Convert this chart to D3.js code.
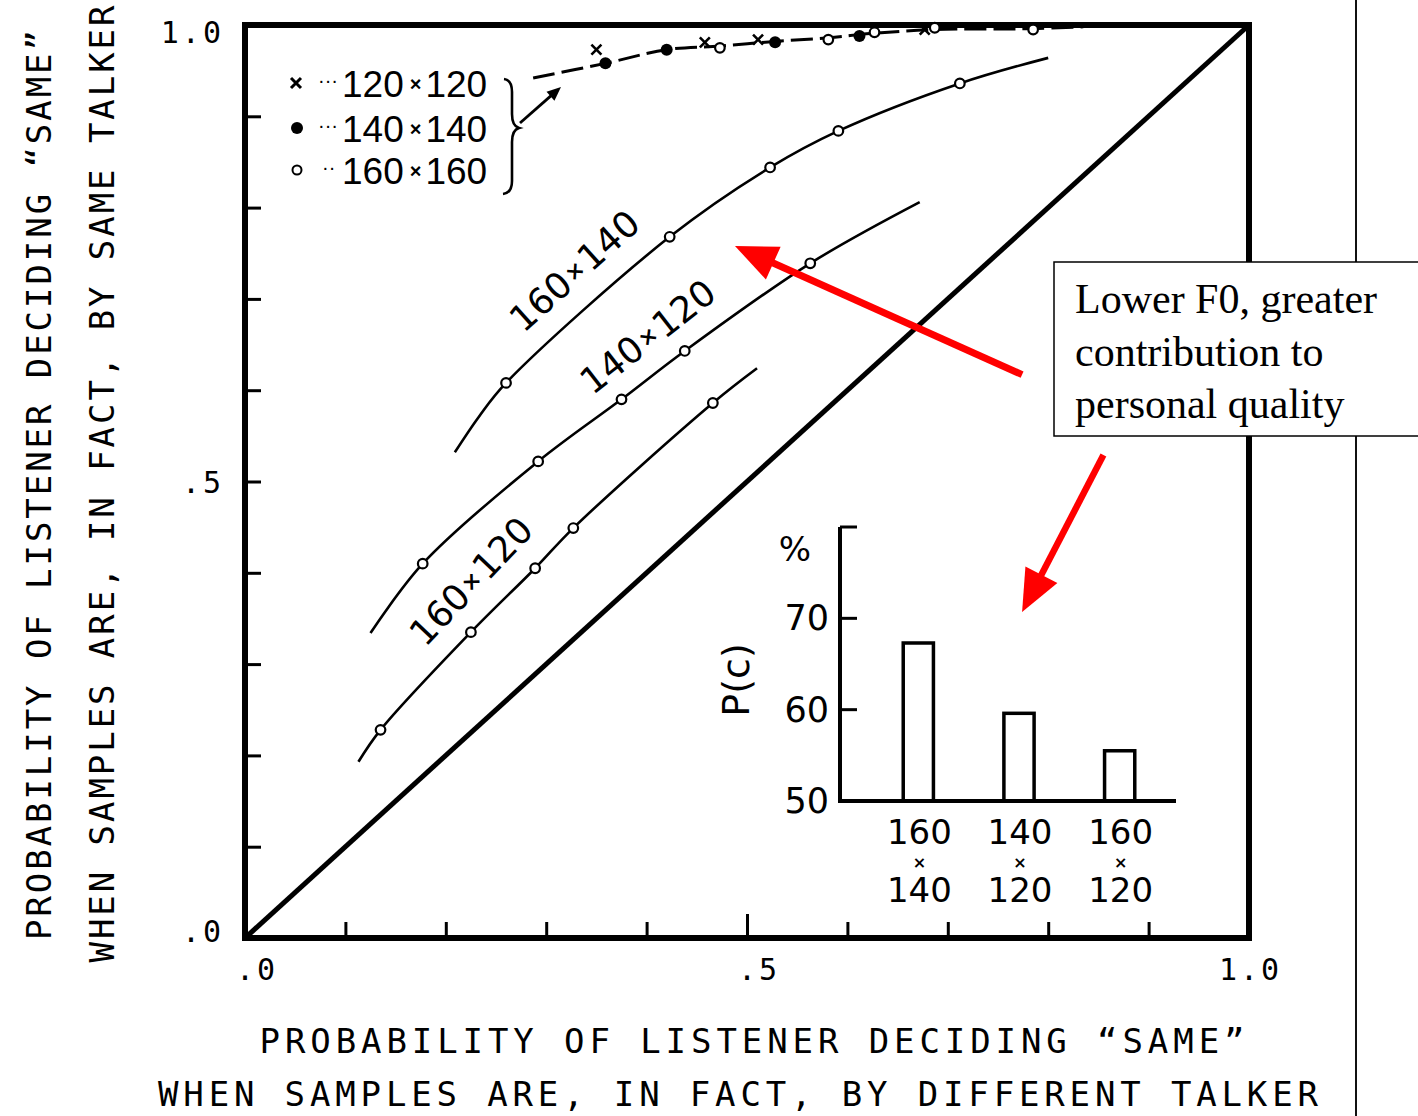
<!DOCTYPE html>
<html><head><meta charset="utf-8">
<script src="https://cdn.jsdelivr.net/npm/d3@7"></script>
<style>body{margin:0;background:#fff}svg{display:block}</style>
</head><body>
<svg id="c" width="1418" height="1116"></svg>
<script>
// ---------- data ----------
const minorTicks = [0.1,0.2,0.3,0.4,0.5,0.6,0.7,0.8,0.9];
const labelValues = [0, 0.5, 1];
const labelTexts = [".0", ".5", "1.0"];

// line paths (x = P(same | different talker), y = P(same | same talker))
const curve160x140 = [[0.209,0.532],[0.233,0.571],[0.260,0.608],[0.423,0.768],[0.523,0.844],[0.591,0.884],[0.712,0.936],[0.800,0.964]];
const marks160x140 = [[0.260,0.608],[0.423,0.768],[0.523,0.844],[0.591,0.884],[0.712,0.936]];
const curve140x120 = [[0.125,0.334],[0.177,0.410],[0.292,0.522],[0.375,0.590],[0.438,0.643],[0.563,0.739],[0.672,0.806]];
const marks140x120 = [[0.177,0.410],[0.292,0.522],[0.375,0.590],[0.438,0.643],[0.563,0.739]];
const curve160x120 = [[0.113,0.193],[0.135,0.228],[0.225,0.335],[0.289,0.405],[0.327,0.449],[0.466,0.586],[0.510,0.624]];
const marks160x120 = [[0.135,0.228],[0.225,0.335],[0.289,0.405],[0.327,0.449],[0.466,0.586]];
const curveSame = [[0.287,0.942],[0.359,0.958],[0.420,0.973],[0.473,0.977],[0.528,0.982],[0.581,0.986],[0.627,0.991],[0.687,0.995],[0.785,0.996],[0.835,0.998]];
const same120 = [[0.350,0.973],[0.458,0.981],[0.511,0.984],[0.677,0.995]];
const same140 = [[0.359,0.958],[0.420,0.973],[0.528,0.981],[0.612,0.988]];
const same160 = [[0.473,0.975],[0.581,0.984],[0.627,0.992],[0.687,0.997],[0.785,0.995]];
const diagonal = [[0,0],[1,1]];

const legendLabels = [["120","120"],["140","140"],["160","160"]];
const curveLabels = [["160","140"],["140","120"],["160","120"]];

// inset bar chart
const barCats = [["160","140"],["140","120"],["160","120"]];
const barValues = [67.3, 59.6, 55.5];
const barTickValues = [60, 70, 80];
const barTickLabels = [50, 60, 70];

const xTitle = ["PROBABILITY OF LISTENER DECIDING \u201CSAME\u201D", "WHEN SAMPLES ARE, IN FACT, BY DIFFERENT TALKER"];
const yTitle = ["PROBABILITY OF LISTENER DECIDING \u201CSAME\u201D", "WHEN SAMPLES ARE, IN FACT, BY SAME TALKER"];
const calloutLines = ["Lower F0, greater", "contribution to", "personal quality"];

// ---------- drawing ----------
const svg = d3.select("#c");
const x = d3.scaleLinear().domain([0,1]).range([245,1249]);
const y = d3.scaleLinear().domain([0,1]).range([938,25]);
const mono = "'DejaVu Sans Mono', monospace";
const sans = "'DejaVu Sans', sans-serif";

svg.append("rect").attr("width",1418).attr("height",1116).attr("fill","#fff");

// right vertical rule
svg.append("line").attr("x1",1356).attr("x2",1356).attr("y1",0).attr("y2",1116)
  .attr("stroke","#111").attr("stroke-width",2);

// ticks
svg.append("g").attr("transform",`translate(0,${y(0)})`)
  .call(d3.axisBottom(x).tickValues(minorTicks).tickSize(-16).tickFormat(""))
  .call(g=>{g.select(".domain").remove();g.selectAll("line").attr("stroke","#000").attr("stroke-width",3);
    g.selectAll(".tick").filter(d=>d===0.5).select("line").attr("y2",-24);});
svg.append("g").attr("transform",`translate(${x(0)},0)`)
  .call(d3.axisLeft(y).tickValues(minorTicks).tickSize(-16).tickFormat(""))
  .call(g=>{g.select(".domain").remove();g.selectAll("line").attr("stroke","#000").attr("stroke-width",3);});

// frame
svg.append("rect").attr("x",x(0)).attr("y",y(1)).attr("width",x(1)-x(0)).attr("height",y(0)-y(1))
  .attr("fill","none").attr("stroke","#000").attr("stroke-width",6);

// tick labels
const adv = 0.602*30 + 3;
labelValues.forEach((v,i)=>{
  const t = labelTexts[i];
  const idx = t.indexOf(".");
  svg.append("text").attr("x", x(v) - (idx+0.5)*adv + 1.5).attr("y",980)
    .attr("font-family",mono).attr("font-size",30).attr("letter-spacing",3).text(t);
  svg.append("text").attr("x",224).attr("y",y(v)+ (v===1?18:(v===0?4:11)))
    .attr("text-anchor","end").attr("font-family",mono).attr("font-size",30).attr("letter-spacing",3).text(t);
});

// axis titles
const xt = [[752,1053,985],[738,1106,1160]];
xTitle.forEach((s,i)=>svg.append("text").attr("x",xt[i][0]).attr("y",xt[i][1]).attr("text-anchor","middle")
  .attr("font-family",mono).attr("font-size",34).attr("textLength",xt[i][2]).attr("lengthAdjust","spacing").text(s));
const yt = [[51,485,910],[114,484,957]];
yTitle.forEach((s,i)=>svg.append("text").attr("transform",`translate(${yt[i][0]},${yt[i][1]}) rotate(-90)`)
  .attr("text-anchor","middle").attr("font-family",mono).attr("font-size",34)
  .attr("textLength",yt[i][2]).attr("lengthAdjust","spacing").text(s));

// diagonal
svg.append("path").datum(diagonal).attr("d",d3.line().x(d=>x(d[0])).y(d=>y(d[1])))
  .attr("stroke","#000").attr("stroke-width",5).attr("fill","none");

// curves
const line = d3.line().x(d=>x(d[0])).y(d=>y(d[1])).curve(d3.curveCatmullRom.alpha(0.5));
[curve160x140, curve140x120, curve160x120].forEach(c=>
  svg.append("path").datum(c).attr("d",line).attr("fill","none").attr("stroke","#000").attr("stroke-width",2.6));
svg.append("path").datum(curveSame).attr("d",line).attr("fill","none").attr("stroke","#000")
  .attr("stroke-width",3).attr("stroke-dasharray","22,7");

function openMarks(arr){
  svg.append("g").selectAll("circle").data(arr).join("circle")
    .attr("cx",d=>x(d[0])).attr("cy",d=>y(d[1])).attr("r",4.8)
    .attr("fill","#fff").attr("stroke","#000").attr("stroke-width",2.2);
}
function dotMarks(arr){
  svg.append("g").selectAll("circle").data(arr).join("circle")
    .attr("cx",d=>x(d[0])).attr("cy",d=>y(d[1])).attr("r",6).attr("fill","#000");
}
function crossMarks(arr){
  svg.append("g").selectAll("path").data(arr).join("path")
    .attr("d",d=>{const cx=x(d[0]),cy=y(d[1]),s=5;return `M${cx-s},${cy-s}L${cx+s},${cy+s}M${cx-s},${cy+s}L${cx+s},${cy-s}`;})
    .attr("stroke","#000").attr("stroke-width",2.6);
}
openMarks(marks160x140); openMarks(marks140x120); openMarks(marks160x120);
crossMarks(same120); dotMarks(same140); openMarks(same160);

// curve labels
const clPos = [[0.328,0.731,-42],[0.401,0.659,-38],[0.225,0.391,-46.5]];
curveLabels.forEach((l,i)=>{
  const t = svg.append("text").attr("transform",`translate(${x(clPos[i][0])},${y(clPos[i][1])}) rotate(${clPos[i][2]})`)
    .attr("text-anchor","middle").attr("font-family",sans).attr("font-size",36).attr("dominant-baseline","central");
  t.append("tspan").text(l[0]);
  t.append("tspan").attr("font-size",22).attr("font-weight","bold").attr("dx",2).text("\u00D7");
  t.append("tspan").attr("dx",2).text(l[1]);
});

// legend
const legY = [83,128,170];
const legFont = "'Liberation Sans', Arial, sans-serif";
legendLabels.forEach((l,i)=>{
  const cy = legY[i];
  if(i===0) svg.append("path").attr("d",`M291,${cy-5}L301,${cy+5}M291,${cy+5}L301,${cy-5}`).attr("stroke","#000").attr("stroke-width",3);
  if(i===1) svg.append("circle").attr("cx",297).attr("cy",cy).attr("r",6).attr("fill","#000");
  if(i===2) svg.append("circle").attr("cx",297).attr("cy",cy).attr("r",4.5).attr("fill","#fff").attr("stroke","#000").attr("stroke-width",2);
  svg.append("text").attr("x",i===2?322:318).attr("y",cy+4).attr("font-family",legFont).attr("font-size",20)
    .text(i===2?"\u00B7\u00B7":"\u00B7\u00B7\u00B7");
  const t = svg.append("text").attr("x",342).attr("y",cy+14).attr("font-family",legFont).attr("font-size",37);
  t.append("tspan").text(l[0]);
  t.append("tspan").attr("font-size",20).attr("font-weight","bold").attr("dx",6).attr("dy",-6).text("\u00D7");
  t.append("tspan").attr("dx",4).attr("dy",6).text(l[1]);
});
// brace
svg.append("path").attr("d","M504,79 Q512,80 512,92 L512,114 Q512,126 519,128 Q512,130 512,142 L512,181 Q512,193 503,194")
  .attr("fill","none").attr("stroke","#000").attr("stroke-width",2.6);
// arrows
function arrow(x1,y1,x2,y2,col,w,L,W){
  const a = Math.atan2(y2-y1,x2-x1), bx = x2-L*Math.cos(a), by = y2-L*Math.sin(a);
  svg.append("line").attr("x1",x1).attr("y1",y1).attr("x2",bx+2*Math.cos(a)).attr("y2",by+2*Math.sin(a))
    .attr("stroke",col).attr("stroke-width",w);
  const px = -Math.sin(a), py = Math.cos(a);
  svg.append("path").attr("d",`M${x2},${y2}L${bx+W*px},${by+W*py}L${bx-W*px},${by-W*py}Z`).attr("fill",col);
}
arrow(520,123,561,87,"#000",2.8,14,6);

// inset bar chart
const by = d3.scaleLinear().domain([50,80]).range([801,527]);
const bx = d3.scaleBand().domain(d3.range(barValues.length)).range([868,1170]).paddingInner(0.7).paddingOuter(0.35);
const inset = svg.append("g");
inset.selectAll("rect").data(barValues).join("rect")
  .attr("x",(d,i)=>bx(i)).attr("y",d=>by(d)).attr("width",bx.bandwidth()).attr("height",d=>by(50)-by(d))
  .attr("fill","#fff").attr("stroke","#000").attr("stroke-width",3.5);
inset.append("line").attr("x1",840).attr("x2",840).attr("y1",by(80)).attr("y2",by(50)+2).attr("stroke","#000").attr("stroke-width",4);
inset.append("line").attr("x1",838).attr("x2",1176).attr("y1",by(50)).attr("y2",by(50)).attr("stroke","#000").attr("stroke-width",4);
inset.selectAll(".bt").data(barTickValues).join("line").attr("x1",840).attr("x2",857)
  .attr("y1",d=>by(d)).attr("y2",d=>by(d)).attr("stroke","#000").attr("stroke-width",3);
inset.selectAll(".bl").data(barTickLabels).join("text").attr("x",829).attr("y",d=>by(d)+12)
  .attr("text-anchor","end").attr("font-family",sans).attr("font-size",35).text(d=>d);
inset.append("text").attr("x",795).attr("y",561).attr("text-anchor","middle").attr("font-family",sans).attr("font-size",34).text("%");
inset.append("text").attr("transform","translate(749,680) rotate(-90)").attr("text-anchor","middle")
  .attr("font-family",sans).attr("font-size",38).text("P(c)");
barCats.forEach((c,i)=>{
  const cx = bx(i)+bx.bandwidth()/2 + 1;
  inset.append("text").attr("x",cx).attr("y",844).attr("text-anchor","middle").attr("font-family",sans).attr("font-size",34).text(c[0]);
  inset.append("text").attr("x",cx).attr("y",868).attr("text-anchor","middle").attr("font-family",sans).attr("font-size",16).attr("font-weight","bold").text("\u00D7");
  inset.append("text").attr("x",cx).attr("y",902).attr("text-anchor","middle").attr("font-family",sans).attr("font-size",34).text(c[1]);
});

// red arrows
arrow(x(0.774),y(0.617),x(0.488),y(0.758),"#ff0000",7,42,18);
arrow(x(0.855),y(0.529),x(0.774),y(0.357),"#ff0000",6.5,42,18);

// callout box
svg.append("rect").attr("x",1054).attr("y",262).attr("width",420).attr("height",174)
  .attr("fill","#fff").attr("stroke","#000").attr("stroke-width",1.5);
calloutLines.forEach((s,i)=>svg.append("text").attr("x",1075).attr("y",313+i*52.5)
  .attr("font-family","'Liberation Serif','Times New Roman',serif").attr("font-size",42).text(s));
</script>
</body></html>
